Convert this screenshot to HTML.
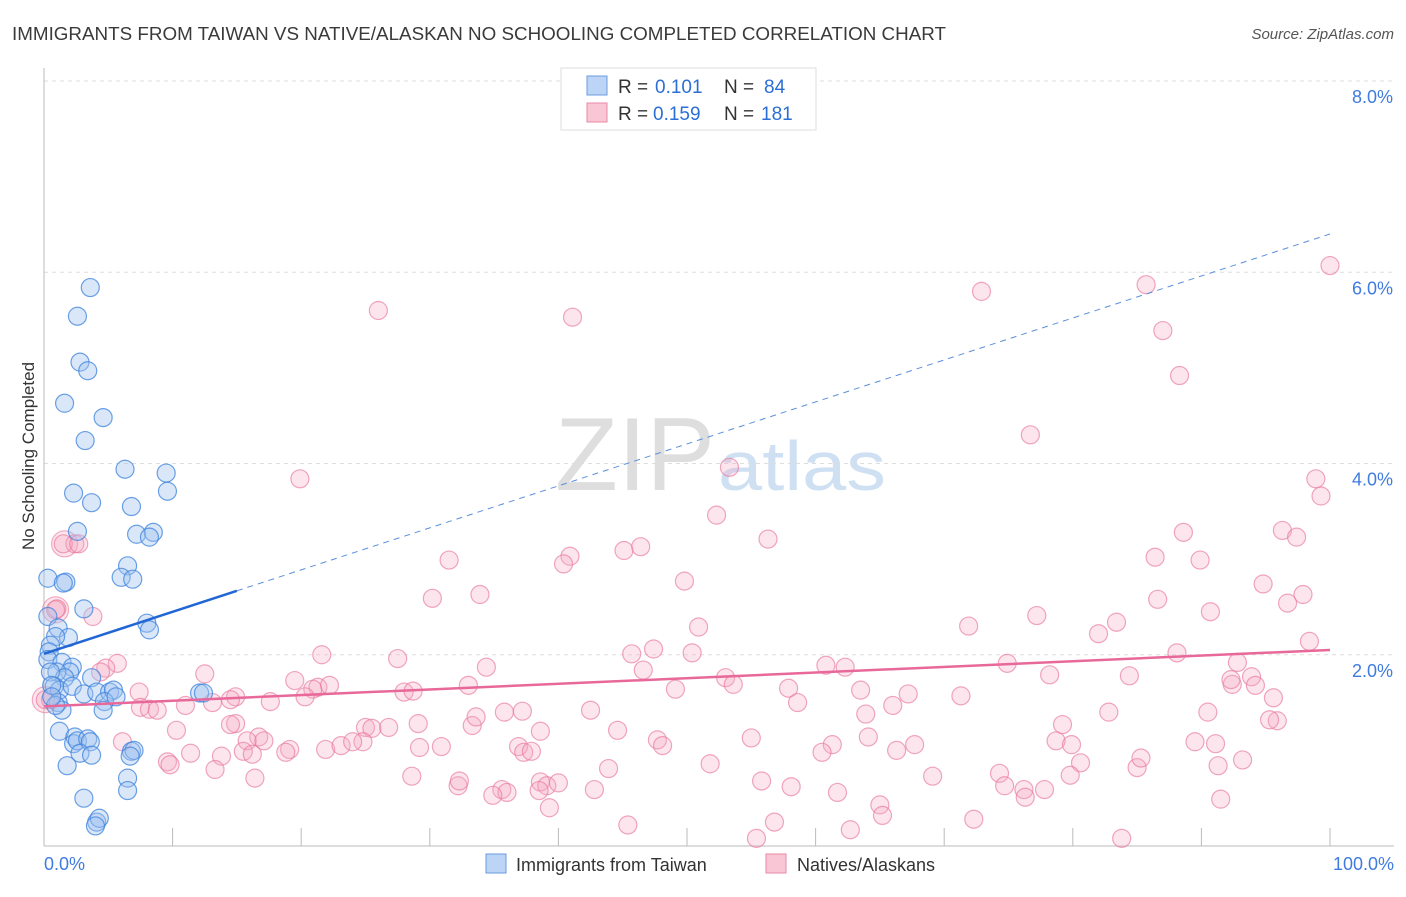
<!DOCTYPE html>
<html><head><meta charset="utf-8"><style>
body{margin:0;background:#fff;font-family:"Liberation Sans",sans-serif;}
svg text{font-family:"Liberation Sans",sans-serif;}
</style></head><body>
<svg id="chart" width="1406" height="892" viewBox="0 0 1406 892" xmlns="http://www.w3.org/2000/svg">
<text x="12" y="40" font-size="18" fill="#3a3a3a" textLength="934" lengthAdjust="spacingAndGlyphs">IMMIGRANTS FROM TAIWAN VS NATIVE/ALASKAN NO SCHOOLING COMPLETED CORRELATION CHART</text>
<text x="1394" y="39" font-size="15" fill="#555" text-anchor="end" font-style="italic">Source: ZipAtlas.com</text>
<g>
<text x="555" y="490" font-size="104" fill="#dedede" font-family="Liberation Serif,serif" textLength="160" lengthAdjust="spacingAndGlyphs">ZIP</text>
<text x="718" y="490" font-size="70" fill="#cfe0f3" textLength="168" lengthAdjust="spacingAndGlyphs">atlas</text>
</g>
<g id="grid"></g>
<g id="axes"></g>
<g id="pts"></g>
<g id="lines"></g>
<text transform="translate(34,456) rotate(-90)" font-size="17" fill="#333" text-anchor="middle">No Schooling Completed</text>
<g>
<rect x="561" y="68" width="255" height="62" fill="#fff" stroke="#ddd"/>
<rect x="587" y="76" width="20" height="19" fill="#bcd4f5" stroke="#6a9be0"/>
<rect x="587" y="103" width="20" height="19" fill="#f9c6d5" stroke="#e88aa6"/>
<text x="618" y="93" font-size="19" fill="#333">R =</text>
<text x="655" y="93" font-size="19" fill="#2b6fd6">0.101</text>
<text x="724" y="93" font-size="19" fill="#333">N =</text>
<text x="764" y="93" font-size="19" fill="#2b6fd6">84</text>
<text x="618" y="120" font-size="19" fill="#333">R =</text>
<text x="653" y="120" font-size="19" fill="#2b6fd6">0.159</text>
<text x="724" y="120" font-size="19" fill="#333">N =</text>
<text x="761" y="120" font-size="19" fill="#2b6fd6">181</text>
</g>
<g>
<rect x="486" y="854" width="20" height="19" fill="#bcd4f5" stroke="#6a9be0"/>
<text x="516" y="871" font-size="18" fill="#333">Immigrants from Taiwan</text>
<rect x="766" y="854" width="20" height="19" fill="#f9c6d5" stroke="#e88aa6"/>
<text x="797" y="871" font-size="18" fill="#333">Natives/Alaskans</text>
</g>
</svg>
<script>
const yTicks=[2,4,6,8];
const yTickLabels=["2.0%","4.0%","6.0%","8.0%"];
const blueX=[3.6,2.6,2.8,3.4,1.6,4.6,3.2,6.3,9.5,9.6,2.3,3.7,6.8,2.6,7.2,8.5,8.2,6.5,6.0,6.9,0.3,1.7,1.5,3.1,8.0,8.2,0.3,1.1,1.9,0.9,0.5,0.4,0.3,1.4,2.2,2.0,1.0,1.6,0.5,0.8,1.2,2.2,3.1,3.7,4.1,5.1,5.4,4.7,5.6,12.1,12.4,4.6,1.1,1.4,1.2,2.4,2.3,2.6,3.4,3.6,2.8,1.8,3.7,6.8,7.0,6.7,6.5,6.5,3.1,4.1,4.3,4.0,0.9,0.6,0.6];
const blueY=[5.84,5.54,5.06,4.97,4.63,4.48,4.24,3.94,3.90,3.71,3.69,3.59,3.55,3.29,3.26,3.28,3.23,2.93,2.81,2.79,2.80,2.76,2.75,2.48,2.33,2.26,2.40,2.28,2.18,2.19,2.10,2.03,1.95,1.92,1.87,1.82,1.82,1.76,1.82,1.67,1.63,1.67,1.59,1.76,1.61,1.61,1.63,1.51,1.56,1.60,1.60,1.42,1.50,1.42,1.20,1.14,1.07,1.10,1.12,1.09,0.97,0.84,0.95,0.99,1.00,0.94,0.71,0.58,0.50,0.25,0.29,0.21,1.47,1.68,1.56];
const pinkX=[26.0,41.1,72.9,85.7,100.0,87.0,88.3,76.7,53.3,19.9,98.9,99.3,52.3,88.6,96.3,97.4,56.3,45.1,46.4,40.9,40.4,31.5,86.4,89.9,49.8,94.8,30.2,33.9,86.6,97.9,96.7,77.2,90.7,3.8,71.9,50.9,83.4,82.0,98.4,47.4,45.7,50.4,88.1,92.8,21.6,27.5,60.8,62.3,74.9,34.4,78.2,46.6,84.4,93.9,94.2,53.0,53.6,92.4,33.0,19.5,21.3,20.9,22.2,28.0,28.7,49.1,57.9,63.5,67.2,71.3,95.6,92.3,58.6,95.9,95.3,82.8,90.5,66.0,63.9,35.8,42.5,37.2,14.9,14.5,7.4,12.5,5.7,4.8,4.4,2.4,1.5,2.7,1.0,0.5,7.5,8.2,8.8,11.0,13.1,17.6,20.3,14.9,10.3,6.1,14.5,29.1,33.3,33.6,38.6,44.6,25.0,25.5,26.8,24.8,29.2,30.9,16.7,15.8,17.1,19.1,18.8,21.9,23.1,24.0,15.5,11.4,13.8,16.2,36.9,37.3,37.9,47.7,48.1,55.0,61.3,60.5,64.1,66.3,67.7,78.7,79.2,79.9,89.5,91.1,80.6,85.0,79.8,85.3,91.3,93.2,9.6,9.8,13.3,16.4,28.6,32.2,32.3,35.6,36.0,34.9,38.6,39.1,40.0,43.9,38.5,39.3,42.8,51.8,55.8,58.1,69.1,74.3,74.7,76.2,77.8,76.3,72.3,61.7,65.0,65.2,62.7,56.8,45.4,91.5,83.8,55.4,0.9,0.1];
const pinkY=[5.60,5.53,5.80,5.87,6.07,5.39,4.92,4.30,3.96,3.84,3.84,3.66,3.46,3.28,3.30,3.23,3.21,3.09,3.13,3.03,2.95,2.99,3.02,2.99,2.77,2.74,2.59,2.63,2.58,2.63,2.54,2.41,2.45,2.40,2.30,2.29,2.34,2.22,2.14,2.06,2.01,2.02,2.02,1.92,2.00,1.96,1.89,1.87,1.91,1.87,1.79,1.84,1.78,1.77,1.68,1.76,1.69,1.69,1.68,1.73,1.66,1.64,1.68,1.61,1.62,1.64,1.65,1.63,1.59,1.57,1.55,1.74,1.50,1.31,1.32,1.40,1.40,1.47,1.38,1.40,1.42,1.41,1.56,1.53,1.61,1.80,1.91,1.86,1.82,3.16,3.16,3.16,2.48,1.53,1.45,1.43,1.42,1.47,1.50,1.51,1.56,1.28,1.21,1.09,1.27,1.28,1.26,1.35,1.20,1.21,1.24,1.23,1.24,1.09,1.03,1.04,1.14,1.10,1.10,1.01,0.98,1.01,1.05,1.09,0.99,0.97,0.94,0.96,1.04,0.98,0.99,1.11,1.05,1.13,1.06,0.98,1.14,1.00,1.06,1.10,1.27,1.06,1.09,1.07,0.87,0.82,0.74,0.92,0.84,0.90,0.88,0.85,0.80,0.71,0.73,0.63,0.68,0.59,0.56,0.53,0.67,0.63,0.66,0.81,0.58,0.40,0.59,0.86,0.68,0.62,0.73,0.76,0.63,0.59,0.59,0.51,0.28,0.56,0.43,0.32,0.17,0.25,0.22,0.49,0.08,0.08,2.47,1.53];
const pinkBigX=[0.9,0.1,1.6];
const pinkBigY=[2.47,1.53,3.16];
const blueTrend=[2.01,6.40];
const pinkTrend=[1.46,2.05];
const blueSolidEnd=15;

const NS="http://www.w3.org/2000/svg";
const X0=44,X1=1330,Y0=846,Y8=81;
function sx(v){return X0+(X1-X0)*v/100;}
function sy(v){return Y0-(Y0-Y8)*v/8;}
function mk(tag,attrs,parent){const e=document.createElementNS(NS,tag);for(const k in attrs)e.setAttribute(k,attrs[k]);document.getElementById(parent).appendChild(e);return e;}

yTicks.forEach((t,i)=>{
  const g=mk('line',{x1:44,x2:1394,y1:sy(t),y2:sy(t),stroke:'#ddd','stroke-dasharray':'4,4'},'grid');
  
  
  const l=mk('text',{x:1393,y:sy(t)+22,'font-size':18,fill:'#3f7be0','text-anchor':'end'},'axes');
  l.textContent=yTickLabels[i];
  
  
});
const ya=mk('line',{x1:44,x2:44,y1:68,y2:846,stroke:'#bbb'},'axes');


const xa=mk('line',{x1:44,x2:1394,y1:846,y2:846,stroke:'#bbb'},'axes');


for(let i=1;i<=10;i++){
  const t=mk('line',{x1:sx(i*10),x2:sx(i*10),y1:828,y2:846,stroke:'#bbb'},'axes');
  
  
}
const xl0=mk('text',{x:44,y:870,'font-size':18,fill:'#3f7be0'},'axes');xl0.textContent='0.0%';


const xl1=mk('text',{x:1394,y:870,'font-size':18,fill:'#3f7be0','text-anchor':'end'},'axes');xl1.textContent='100.0%';



pinkBigX.forEach((x,i)=>{
  const c=mk('circle',{cx:sx(x),cy:sy(pinkBigY[i]),r:13,fill:'rgba(246,170,195,0.3)',stroke:'rgba(232,120,155,0.6)','stroke-width':1.2},'pts');
  
  
});
pinkX.forEach((x,i)=>{
  const c=mk('circle',{cx:sx(x),cy:sy(pinkY[i]),r:9,fill:'rgba(246,170,195,0.3)',stroke:'rgba(232,120,155,0.65)','stroke-width':1.2},'pts');
  
  
});
blueX.forEach((x,i)=>{
  const c=mk('circle',{cx:sx(x),cy:sy(blueY[i]),r:9,fill:'rgba(160,195,240,0.4)',stroke:'rgba(60,130,220,0.75)','stroke-width':1.2},'pts');
  
  
});
function ty(tr,x){return tr[0]+(tr[1]-tr[0])*x/100;}
const bs=mk('line',{x1:sx(0),y1:sy(blueTrend[0]),x2:sx(blueSolidEnd),y2:sy(ty(blueTrend,blueSolidEnd)),stroke:'#2166d4','stroke-width':2.5},'lines');


const bd=mk('line',{x1:sx(blueSolidEnd),y1:sy(ty(blueTrend,blueSolidEnd)),x2:sx(100),y2:sy(blueTrend[1]),stroke:'#5b8fdc','stroke-width':1,'stroke-dasharray':'6,5'},'lines');


const pl=mk('line',{x1:sx(0),y1:sy(pinkTrend[0]),x2:sx(100),y2:sy(pinkTrend[1]),stroke:'#e8689a','stroke-width':2.5},'lines');


</script>
</body></html>
